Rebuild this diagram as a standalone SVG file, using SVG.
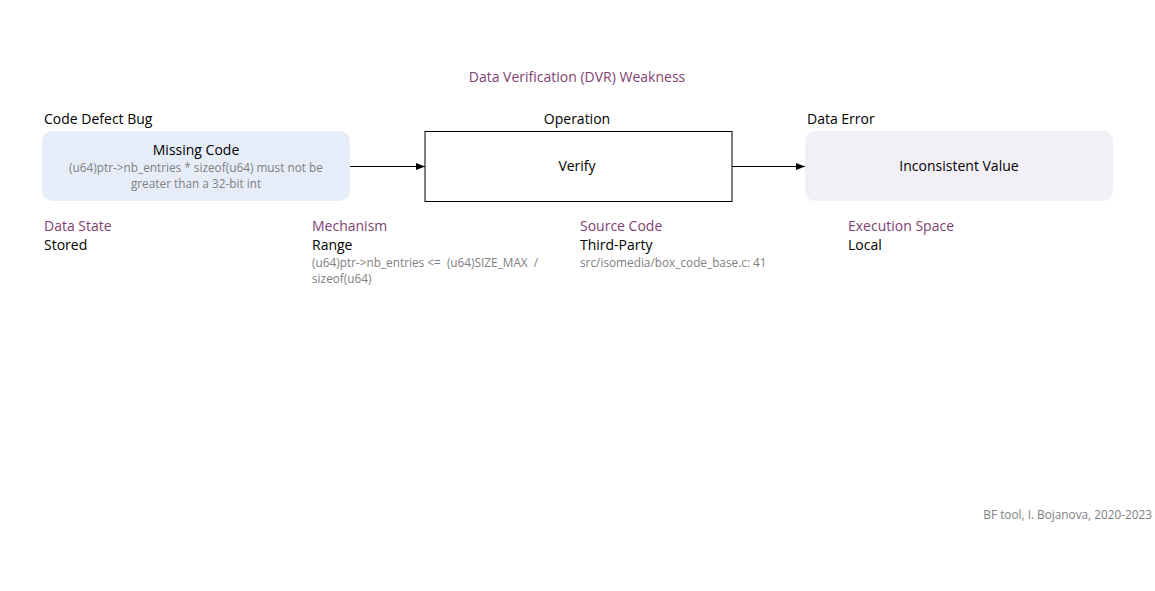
<svg xmlns="http://www.w3.org/2000/svg" width="1155" height="591" viewBox="0 0 1155 591">
<defs>
<style>
text{font-family:"Open Sans","Noto Sans","Liberation Sans",sans-serif}
.lbl{font-size:14px;fill:#000}
.cat{font-size:14px;fill:#7f3f73}
.val{font-size:14px;fill:#000}
.note{font-size:11.8px;fill:#808080}
.conn{stroke:#000;stroke-width:1;fill:none;marker-end:url(#arr)}
</style>
<marker id="arr" viewBox="0 0 10 10" refX="10" refY="5" markerWidth="9" markerHeight="9" markerUnits="userSpaceOnUse" orient="auto">
<path d="M0,1 L10,5 L0,9 Z" fill="#000"/>
</marker>
</defs>
<rect width="1155" height="591" fill="#fff"/>
<text class="cat" x="577" y="82" text-anchor="middle">Data Verification (DVR) Weakness</text>
<g id="node-bug">
<text class="lbl" x="44" y="124">Code Defect Bug</text>
<rect x="42" y="131" width="308" height="70" rx="10" fill="#e6edf9"/>
<text class="lbl" x="196" y="155" text-anchor="middle">Missing Code</text>
<text class="note" x="196" y="172" text-anchor="middle">(u64)ptr-&gt;nb_entries * sizeof(u64) must not be</text>
<text class="note" x="196" y="188" text-anchor="middle">greater than a 32-bit int</text>
</g>
<g id="node-operation">
<text class="lbl" x="577" y="124" text-anchor="middle">Operation</text>
<rect x="425" y="131.5" width="307" height="70" fill="#fff" stroke="#000" stroke-width="1"/>
<text class="lbl" x="577" y="171" text-anchor="middle">Verify</text>
</g>
<g id="node-error">
<text class="lbl" x="807" y="124">Data Error</text>
<rect x="805" y="131" width="308" height="70" rx="10" fill="#f2eff7"/>
<text class="lbl" x="959" y="171" text-anchor="middle">Inconsistent Value</text>
</g>
<g id="connectors">
<line class="conn" x1="350" y1="166.5" x2="425" y2="166.5"/>
<line class="conn" x1="732" y1="166.5" x2="805" y2="166.5"/>
</g>
<g id="attr-datastate">
<text class="cat" x="44" y="231">Data State</text>
<text class="val" x="44" y="250">Stored</text>
</g>
<g id="attr-mechanism">
<text class="cat" x="312" y="231">Mechanism</text>
<text class="val" x="312" y="250">Range</text>
<text class="note" x="312" y="267" xml:space="preserve">(u64)ptr-&gt;nb_entries &lt;=  (u64)SIZE_MAX  /</text>
<text class="note" x="312" y="283">sizeof(u64)</text>
</g>
<g id="attr-source">
<text class="cat" x="580" y="231">Source Code</text>
<text class="val" x="580" y="250">Third-Party</text>
<text class="note" x="580" y="267">src/isomedia/box_code_base.c: 41</text>
</g>
<g id="attr-space">
<text class="cat" x="848" y="231">Execution Space</text>
<text class="val" x="848" y="250">Local</text>
</g>
<text class="note" x="1152" y="519" text-anchor="end">BF tool, I. Bojanova, 2020-2023</text>
</svg>
